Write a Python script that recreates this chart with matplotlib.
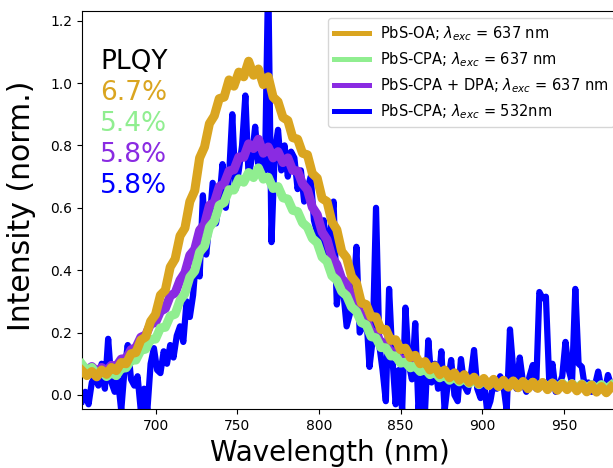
import matplotlib
matplotlib.use('Agg')
import matplotlib.pyplot as plt
import numpy as np

# PL spectra, normalised
# smooth-ish spectra sampled every 3 nm starting at 655 nm
oa_637 = [0.078, 0.062, 0.075, 0.058, 0.080, 0.066, 0.088, 0.078, 0.104, 0.100,
          0.132, 0.136, 0.176, 0.186, 0.236, 0.258, 0.320, 0.336, 0.410, 0.436,
          0.510, 0.535, 0.620, 0.655, 0.760, 0.795, 0.870, 0.895, 0.950, 0.955,
          1.010, 0.990, 1.035, 1.020, 1.070, 1.025, 1.045, 0.995, 1.020, 0.955,
          0.940, 0.890, 0.880, 0.825, 0.820, 0.775, 0.770, 0.710, 0.695, 0.630,
          0.620, 0.555, 0.530, 0.460, 0.440, 0.380, 0.360, 0.295, 0.290, 0.250,
          0.250, 0.210, 0.210, 0.175, 0.177, 0.145, 0.150, 0.120, 0.127, 0.100,
          0.107, 0.080, 0.093, 0.065, 0.080, 0.055, 0.071, 0.047, 0.065, 0.040,
          0.057, 0.035, 0.053, 0.030, 0.050, 0.027, 0.047, 0.025, 0.045, 0.023,
          0.043, 0.020, 0.041, 0.021, 0.040, 0.017, 0.038, 0.015, 0.035, 0.017,
          0.035, 0.013, 0.033, 0.010, 0.031, 0.009, 0.027, 0.007, 0.025]

cpa_637 = [0.098, 0.077, 0.088, 0.067, 0.075, 0.059, 0.071, 0.062, 0.085, 0.087,
           0.111, 0.112, 0.143, 0.147, 0.178, 0.179, 0.215, 0.217, 0.253, 0.259,
           0.303, 0.325, 0.378, 0.397, 0.458, 0.477, 0.538, 0.557, 0.608, 0.617,
           0.658, 0.657, 0.693, 0.682, 0.713, 0.697, 0.728, 0.692, 0.698, 0.662,
           0.668, 0.632, 0.628, 0.592, 0.588, 0.552, 0.538, 0.502, 0.488, 0.442,
           0.428, 0.382, 0.368, 0.332, 0.318, 0.282, 0.268, 0.232, 0.225, 0.187,
           0.183, 0.152, 0.151, 0.125, 0.125, 0.102, 0.105, 0.087, 0.093, 0.075,
           0.083, 0.065, 0.073, 0.055, 0.065, 0.047, 0.058, 0.042, 0.053, 0.037,
           0.049, 0.033, 0.047, 0.031, 0.045, 0.029, 0.043, 0.027, 0.043, 0.027,
           0.041, 0.025, 0.040, 0.024, 0.039, 0.023, 0.038, 0.022, 0.037, 0.023,
           0.036, 0.021, 0.035, 0.021, 0.033, 0.019, 0.033, 0.019, 0.031]

cpa_dpa_637 = [0.093, 0.079, 0.091, 0.075, 0.088, 0.077, 0.095, 0.092, 0.115, 0.117,
               0.145, 0.152, 0.185, 0.192, 0.228, 0.232, 0.268, 0.277, 0.318, 0.327,
               0.368, 0.392, 0.448, 0.467, 0.528, 0.547, 0.608, 0.617, 0.668, 0.677,
               0.718, 0.722, 0.763, 0.762, 0.805, 0.790, 0.820, 0.775, 0.795, 0.760,
               0.780, 0.745, 0.760, 0.720, 0.718, 0.677, 0.658, 0.602, 0.578, 0.522,
               0.498, 0.442, 0.418, 0.372, 0.358, 0.312, 0.298, 0.252, 0.243, 0.202,
               0.198, 0.167, 0.165, 0.137, 0.138, 0.112, 0.115, 0.095, 0.099, 0.082,
               0.089, 0.072, 0.079, 0.061, 0.071, 0.053, 0.063, 0.045, 0.057, 0.039,
               0.053, 0.035, 0.049, 0.032, 0.047, 0.029, 0.045, 0.027, 0.043, 0.025,
               0.041, 0.024, 0.039, 0.023, 0.038, 0.021, 0.037, 0.021, 0.036, 0.020,
               0.035, 0.019, 0.034, 0.018, 0.033, 0.017, 0.032, 0.016, 0.031]

# noisy 532 nm excitation spectrum, every 2 nm from 655 nm
cpa_532 = [-0.02, 0.01, -0.03, 0.04, 0.06, 0.03, 0.10, 0.02, 0.18, 0.04,
           0.01, 0.05, -0.05, 0.08, 0.16, 0.05, 0.03, 0.06, -0.05, 0.02,
           -0.05, 0.10, 0.15, 0.08, 0.07, 0.14, 0.10, 0.16, 0.12, 0.19,
           0.22, 0.17, 0.30, 0.25, 0.32, 0.45, 0.38, 0.64, 0.45, 0.55,
           0.68, 0.55, 0.62, 0.74, 0.60, 0.70, 0.90, 0.66, 0.72, 0.80,
           0.96, 0.70, 0.76, 0.86, 0.74, 0.80, 0.72, 1.35, 0.49, 0.78,
           0.85, 0.72, 0.80, 0.70, 0.78, 0.76, 0.66, 0.72, 0.62, 0.66,
           0.70, 0.56, 0.52, 0.48, 0.56, 0.44, 0.52, 0.62, 0.29, 0.38,
           0.33, 0.22, 0.26, 0.30, 0.475, 0.20, 0.22, 0.26, 0.09, 0.18,
           0.60, 0.16, 0.08, -0.02, 0.34, 0.12, -0.03, 0.08, -0.05, 0.28,
           0.10, 0.05, 0.23, -0.05, 0.06, -0.05, 0.175, 0.04, 0.10, 0.02,
           0.14, -0.05, 0.04, 0.112, 0.00, -0.02, 0.115, 0.03, 0.01, 0.06,
           0.144, 0.02, -0.01, 0.05, -0.05, -0.02, 0.04, 0.02, 0.06, 0.03,
           -0.05, 0.21, 0.08, 0.02, 0.12, 0.04, 0.01, 0.06, 0.096, 0.02,
           0.33, 0.31, 0.315, 0.05, 0.10, 0.01, 0.03, 0.06, 0.17, 0.08,
           0.04, 0.34, 0.10, 0.09, 0.02, 0.04, 0.01, 0.03, 0.075, 0.02,
           0.01, 0.064, 0.03]

wl_3nm = np.arange(655, 655 + 3 * len(oa_637), 3)
wl_blue = np.arange(655, 655 + 2 * len(cpa_532), 2)

labels = [r'PbS-OA; $\lambda_{exc}$ = 637 nm',
          r'PbS-CPA; $\lambda_{exc}$ = 637 nm',
          r'PbS-CPA + DPA; $\lambda_{exc}$ = 637 nm',
          r'PbS-CPA; $\lambda_{exc}$ = 532nm']
colors = ['goldenrod', 'lightgreen', 'blueviolet', 'blue']
plqy = ['6.7%', '5.4%', '5.8%', '5.8%']

fig = plt.figure(figsize=(6.13, 4.68), dpi=100)
ax = fig.add_axes([0.1338, 0.1261, 0.8793, 0.8504])

# blue at the back, orange on top
l_oa, = ax.plot(wl_3nm, oa_637, color=colors[0], lw=6.5, zorder=4)
l_cpa, = ax.plot(wl_3nm[:len(cpa_637)], cpa_637, color=colors[1], lw=6.5, zorder=3)
l_dpa, = ax.plot(wl_3nm[:len(cpa_dpa_637)], cpa_dpa_637, color=colors[2], lw=6.5, zorder=2)
l_532, = ax.plot(wl_blue, cpa_532, color=colors[3], lw=4.5, zorder=1)

ax.set_xlim(655, 985)
ax.set_ylim(-0.045, 1.231)
ax.set_xticks([700, 750, 800, 850, 900, 950])
ax.set_yticks([0.0, 0.2, 0.4, 0.6, 0.8, 1.0, 1.2])
ax.tick_params(labelsize=10)
ax.spines['right'].set_visible(False)

ax.set_xlabel('Wavelength (nm)', fontsize=20)
ax.set_ylabel('Intensity (norm.)', fontsize=21.5)
ax.xaxis.set_label_coords(0.46, -0.075)
ax.yaxis.set_label_coords(-0.085, 0.51)

leg = ax.legend([l_oa, l_cpa, l_dpa, l_532], labels, loc='upper right',
                fontsize=10.5, handlelength=2.4, handletextpad=0.7,
                borderaxespad=0.5)
for h in leg.legend_handles:
    h.set_linewidth(3.6)
leg.set_zorder(10)

ax.text(0.034, 0.854, 'PLQY', transform=ax.transAxes, fontsize=19, va='baseline')
for i, (txt, c) in enumerate(zip(plqy, colors)):
    ax.text(0.034, 0.776 - 0.078 * i, txt, color=c, transform=ax.transAxes,
            fontsize=19, va='baseline')

plt.savefig('out.png', dpi=100)
plt.close()
